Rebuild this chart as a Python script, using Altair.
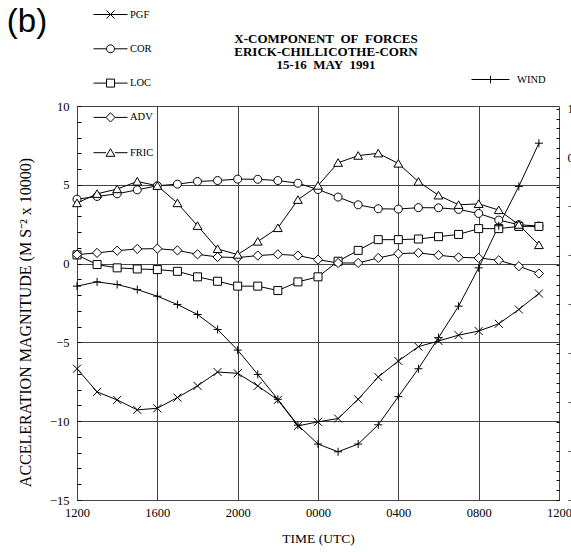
import altair as alt
import pandas as pd

# ---------------- data (hours after 1200 UTC, 15 May 1991) ----------------
hours = list(range(24))
series_names = ["PGF", "COR", "LOC", "ADV", "FRIC", "WIND"]
pgf = [-6.67, -8.14, -8.65, -9.28, -9.18, -8.5, -7.76, -6.88, -6.96, -7.76, -8.65, -10.3,
       -10.04, -9.83, -8.61, -7.19, -6.18, -5.27, -4.91, -4.54, -4.28, -3.82, -2.91, -1.9]
cor = [4.09, 4.26, 4.43, 4.68, 4.94, 5.04, 5.21, 5.27, 5.36, 5.35, 5.27, 5.1,
       4.7, 4.22, 3.73, 3.48, 3.46, 3.55, 3.54, 3.44, 3.18, 2.76, 2.47, 2.38]
loc = [0.55, -0.06, -0.27, -0.34, -0.38, -0.49, -0.84, -1.12, -1.43, -1.43, -1.71, -1.16,
       -0.84, 0.15, 0.84, 1.52, 1.52, 1.56, 1.71, 1.85, 2.22, 2.22, 2.36, 2.36]
adv = [0.57, 0.68, 0.82, 0.93, 0.95, 0.84, 0.59, 0.42, 0.38, 0.51, 0.59, 0.51,
       0.25, 0.04, 0.04, 0.36, 0.63, 0.68, 0.53, 0.4, 0.36, 0.21, -0.17, -0.63]
fric = [3.84, 4.43, 4.73, 5.21, 4.94, 3.84, 2.4, 0.93, 0.57, 1.4, 2.26, 4.05,
        4.95, 6.4, 6.85, 7.0, 6.35, 5.2, 4.33, 3.73, 3.79, 3.4, 2.47, 1.18]
wind = [-1.43, -1.16, -1.33, -1.65, -2.07, -2.6, -3.23, -4.18, -5.49, -7.03, -8.61, -10.25,
        -11.45, -11.94, -11.45, -10.23, -8.44, -6.67, -4.7, -2.7, -0.27, 2.4, 4.9, 7.64]
tick_hours = [0, 4, 8, 12, 16, 20, 24]
tick_labels = ["1200", "1600", "2000", "0000", "0400", "0800", "1200"]
y_ticks = [-15, -10, -5, 0, 5, 10]
right_ticks = [-7, -6, -5, -4, -3, -2, -1, 0, 1]
title_lines = ["X-COMPONENT\u00a0 OF\u00a0 FORCES", "ERICK-CHILLICOTHE-CORN",
               "15-16\u00a0 MAY\u00a0 1991"]
panel_label = ["(b)"]

values = {"PGF": pgf, "COR": cor, "LOC": loc, "ADV": adv, "FRIC": fric, "WIND": wind}
rows = []
for s in series_names:
    for h, v in zip(hours, values[s]):
        rows.append({"s": s, "h": h, "v": v})
df = pd.DataFrame(rows)

# ---------------- marker shapes ----------------
marker = {
    "PGF": "M-1,-1L1,1M-1,1L1,-1",
    "COR": "M-1,0A1,1,0,1,1,1,0A1,1,0,1,1,-1,0Z",
    "LOC": "M-1,-1H1V1H-1Z",
    "ADV": "M0,-1.15L1.15,0L0,1.15L-1.15,0Z",
    "FRIC": "M0,-1L1.1,0.9H-1.1Z",
    "WIND": "M-1,0H1M0,-1V1",
}

def leg_path(name, half):
    a = half
    if name == "PGF":
        return f"M-1,0H1M{-a},{-a}L{a},{a}M{-a},{a}L{a},{-a}"
    if name == "COR":
        return f"M-1,0H{-a}M{a},0H1M{-a},0A{a},{a},0,1,1,{a},0A{a},{a},0,1,1,{-a},0"
    if name == "LOC":
        return f"M-1,0H{-a}M{a},0H1M{-a},{-a}H{a}V{a}H{-a}Z"
    if name == "ADV":
        b = a * 1.15
        return f"M-1,0H{-b}M{b},0H1M0,{-b}L{b},0L0,{b}L{-b},0Z"
    if name == "FRIC":
        return f"M-1,0H{-a*1.1}M{a*1.1},0H1M0,{-a}L{a*1.1},{a*0.9}H{-a*1.1}Z"
    return f"M-1,0H1M0,{-a}V{a}"

main5 = series_names[:5]
W, H = 482, 394
serif = "Liberation Serif"

xs = alt.Scale(domain=[0, 24], nice=False, zero=False)
ys = alt.Scale(domain=[-15, 10], nice=False, zero=False)
rs = alt.Scale(domain=[-7, 1.06], nice=False, zero=False)

label_expr = "[" + ",".join(f"'{t}'" for t in tick_labels) + "][round(datum.value/4)]"
xaxis = alt.Axis(values=tick_hours, labelExpr=label_expr, grid=True, gridColor="#444",
                 gridWidth=1, domain=False, ticks=False, labelPadding=6, labelFlush=False,
                 labelFont=serif, labelFontSize=12.5, labelColor="black",
                 title="TIME (UTC)", titleFont=serif, titleFontSize=13.5,
                 titleFontWeight="normal", titleColor="black", titlePadding=13)
xdef = alt.X("h:Q", scale=xs, axis=xaxis)

yaxis = alt.Axis(values=y_ticks, grid=True, gridColor="#444", gridWidth=1, domain=False,
                 ticks=False, labelPadding=8, labelFlush=False, labelFont=serif,
                 labelFontSize=12.5, labelColor="black",
                 title="ACCELERATION MAGNITUDE (M S\u207b\u00b2 x 10000)", titleFont=serif,
                 titleFontSize=16, titleFontWeight="normal", titleColor="black",
                 titlePadding=16, titleY=216)

base = alt.Chart(df)

lines = base.mark_line(color="black", strokeWidth=1).encode(
    x=xdef, y=alt.Y("v:Q", scale=ys, axis=yaxis), detail="s:N")

points = base.mark_point(filled=False, stroke="black", fill="white", fillOpacity=1,
                         strokeWidth=1, size=64, opacity=1).encode(
    x=xdef, y=alt.Y("v:Q", scale=ys, axis=None),
    shape=alt.Shape("s:N", scale=alt.Scale(domain=series_names,
                                          range=[marker[s] for s in series_names]),
                    legend=None))

leg_common = dict(orient="none", direction="vertical", title=None, symbolStrokeWidth=1,
                  symbolStrokeColor="black", symbolFillColor="white", symbolOpacity=1,
                  labelFont=serif, labelFontSize=10.5, labelColor="black", padding=0)

leg_main = base.transform_filter("false").mark_point(filled=False, stroke="black").encode(
    x=xdef, y=alt.Y("v:Q", scale=ys, axis=None),
    shape=alt.Shape("s:N", scale=alt.Scale(domain=main5,
                                          range=[leg_path(s, 4 / 17) for s in main5]),
                    legend=alt.Legend(legendX=16, legendY=-109, symbolSize=34 * 34,
                                      labelOffset=2, rowPadding=10.3, **leg_common)))

leg_wind = base.transform_filter("false").mark_point(filled=False, stroke="black").encode(
    x=xdef, y=alt.Y("v:Q", scale=ys, axis=None),
    shape=alt.Shape("s:N", scale=alt.Scale(domain=["WIND"], range=[leg_path("WIND", 0.2)]),
                    legend=alt.Legend(legendX=394, legendY=-46, symbolSize=38 * 38,
                                      labelOffset=7, rowPadding=0, **leg_common)))

left_ticks = base.transform_filter("false").mark_point().encode(
    x=xdef,
    y=alt.Y("v:Q", scale=ys, axis=alt.Axis(orient="right", offset=-W, values=list(range(-15, 11)),
                                           tickSize=4, tickColor="black", labels=False,
                                           domain=False, grid=False, title=None)))

right_labels = base.transform_filter("false").mark_point().encode(
    x=xdef,
    y=alt.Y("v:Q", scale=rs, axis=alt.Axis(orient="right", values=right_ticks, tickSize=0,
                                           labels=True, labelPadding=8, labelFont=serif,
                                           labelFontSize=12.5, labelColor="black",
                                           labelFlush=False, domain=False, grid=False,
                                           title=None)))

right_minor = [round(-7 + 0.2 * i, 1) for i in range(41)]
right_ticks_layer = base.transform_filter("false").mark_point().encode(
    x=xdef,
    y=alt.Y("v:Q", scale=rs, axis=alt.Axis(orient="left", offset=-W, values=right_minor,
                                           tickSize=3, tickColor="black", labels=False,
                                           domain=False, grid=False, title=None)))

panel = alt.Chart(pd.DataFrame({"t": panel_label})).mark_text(
    font="Liberation Sans", fontSize=33, align="center", baseline="middle", color="black"
).encode(text="t:N", x=alt.value(-50), y=alt.value(-84))

title = alt.Chart(pd.DataFrame({"t": ["\n".join(title_lines)]})).mark_text(
    font=serif, fontSize=13, fontWeight="bold", align="center", baseline="top",
    lineBreak="\n", lineHeight=13, color="black"
).encode(text="t:N", x=alt.value(249), y=alt.value(-73))

chart = alt.layer(
    lines, points, leg_main, leg_wind, left_ticks, right_labels, right_ticks_layer,
    panel, title
).resolve_scale(y="independent", shape="independent").properties(
    width=W, height=H,
    autosize="none",
    padding={"left": 77, "top": 106, "right": 12, "bottom": 52},
).configure_view(stroke="black", strokeWidth=1).configure(background="white")

chart.save("out.html", embed_options={"renderer": "svg", "actions": False})
